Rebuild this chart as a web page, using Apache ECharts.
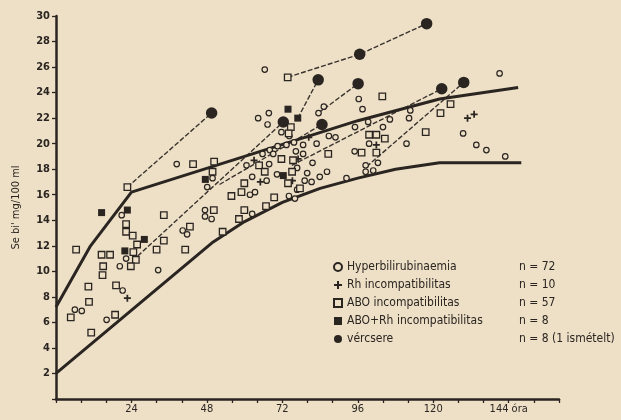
<!DOCTYPE html>
<html>
<head>
<meta charset="utf-8">
<script src="https://cdn.jsdelivr.net/npm/echarts@6/dist/echarts.min.js"></script>
<style>
  html, body { margin: 0; padding: 0; background: #ede0c7; }
  #main { width: 621px; height: 420px; }
</style>
</head>
<body>
<div id="main"></div>
<script>
// hours (óra) vs serum bilirubin (mg/100 ml)
var xLabels = [24, 48, 72, 96, 120, 144];
var yMax = 30;

var upperLimit = [[0, 7.2], [11, 12], [24, 16.2], [96, 21.8], [122, 23.5], [147, 24.4]];
var lowerLimit = [[0, 2], [50, 12.3], [60, 13.9], [72, 15.4], [84, 16.5], [96, 17.3], [108, 18.0], [122, 18.5], [148, 18.5]];

var hyper = [
  [6.0, 7.0], [8.2, 6.9], [16.1, 6.2], [20.3, 10.4], [21.2, 8.5], [20.9, 14.4], [22.3, 11.0],
  [32.5, 10.1], [38.4, 18.4], [40.3, 13.2], [41.7, 12.9], [47.4, 14.8], [47.4, 14.3], [49.5, 14.1],
  [48.1, 16.6], [49.8, 17.3], [60.6, 18.3], [66.4, 25.8], [64.3, 22.0], [67.7, 22.4], [67.3, 21.5],
  [71.7, 20.9], [74.2, 20.6], [75.7, 20.1], [73.3, 19.9], [70.5, 19.8], [68.0, 19.5], [65.7, 19.2],
  [69.1, 19.2], [78.6, 19.9], [82.9, 20.0], [78.6, 19.2], [81.6, 18.5], [76.7, 18.1], [67.8, 18.4],
  [70.3, 17.6], [62.4, 17.4], [67.0, 17.1], [79.9, 17.7], [83.9, 17.4], [86.2, 17.8], [81.3, 17.0],
  [79.1, 17.1], [76.7, 16.4], [74.1, 15.9], [76.0, 15.7], [63.3, 16.2], [61.7, 16.0], [62.4, 14.5],
  [60.1, 14.8], [92.4, 17.3], [95.0, 19.4], [86.8, 20.6], [88.9, 20.5], [85.2, 22.9], [83.5, 22.4],
  [76.3, 19.4], [96.3, 23.5], [97.5, 22.7], [95.1, 21.3], [99.3, 21.7], [106.2, 21.9], [104.0, 21.3],
  [112.7, 22.6], [112.3, 22.0], [99.6, 20.0], [102.4, 18.5], [98.5, 18.3], [98.5, 17.8], [100.9, 17.9],
  [111.5, 20.0], [129.5, 20.8], [133.7, 19.9], [136.9, 19.5], [142.9, 19.0], [141.1, 25.5]
];
var rh = [
  [22.7, 7.9], [63.0, 18.7], [75.2, 17.1], [130.9, 22.0], [133.0, 22.3],
  [65.0, 17.0], [77.0, 18.8], [80.4, 20.5], [101.9, 19.9]
];
var abo = [
  [6.4, 11.7], [4.7, 6.4], [10.3, 8.8], [10.5, 7.6], [11.2, 5.2], [14.5, 11.3], [17.2, 11.3],
  [15.0, 10.4], [14.8, 9.7], [19.1, 8.9], [18.8, 6.6], [22.7, 16.6], [22.3, 13.7], [22.3, 13.1],
  [24.4, 12.8], [25.8, 12.1], [24.6, 11.5], [25.4, 10.9], [23.8, 10.4], [34.3, 14.4], [32.0, 11.7],
  [34.3, 12.4], [41.1, 11.7], [42.6, 13.5], [43.6, 18.4], [50.3, 18.6], [49.8, 17.8], [50.2, 14.8],
  [55.8, 15.9], [59.0, 16.2], [59.9, 16.9], [59.9, 14.8], [58.2, 14.1], [53.0, 13.1], [73.7, 25.2],
  [74.7, 21.3], [86.6, 19.2], [71.7, 18.8], [75.4, 18.7], [64.6, 18.3], [66.4, 17.8], [75.1, 17.8],
  [73.8, 16.9], [77.6, 16.5], [69.4, 15.8], [66.8, 15.1], [103.8, 23.7], [125.5, 23.1], [122.3, 22.4],
  [117.6, 20.9], [99.6, 20.7], [101.9, 20.7], [104.6, 20.4], [97.2, 19.3], [101.9, 19.3], [74.0, 20.8]
];
var aboRh = [
  [14.5, 14.6], [22.7, 14.8], [28.1, 12.5], [21.9, 11.6], [47.5, 17.2], [73.8, 22.7], [76.9, 22.0], [72.3, 17.5]
];
var exchange = [
  [49.5, 22.4], [72.3, 21.7], [83.4, 25.0], [84.6, 21.5], [96.1, 24.7], [96.6, 27.0],
  [117.9, 29.4], [122.7, 24.3], [129.7, 24.8]
];
// dashed links before/after exchange transfusion
var links = [
  [[22.7, 16.6], [49.5, 22.4]],
  [[73.7, 25.2], [96.6, 27.0], [117.9, 29.4]],
  [[76.9, 22.0], [83.4, 25.0]],
  [[26, 11.2], [72.3, 21.7]],
  [[52, 16.8], [84.6, 21.5]],
  [[83.5, 22.4], [96.1, 24.7]],
  [[75, 18.3], [122.7, 24.3]],
  [[98.8, 18.2], [129.7, 24.8]]
];

var names = ['Hyperbilirubinaemia', 'Rh incompatibilitas', 'ABO incompatibilitas', 'ABO+Rh incompatibilitas', 'vércsere'];
var counts = ['n = 72', 'n = 10', 'n = 57', 'n = 8', 'n = 8 (1 ismételt)'];

var ink = '#2b2521';
var paper = '#ede0c7';
var font = 'DejaVu Sans Condensed';

var series = [];
series.push({ type: 'line', data: upperLimit, symbol: 'none', lineStyle: { color: ink, width: 3 }, z: 2, silent: true });
series.push({ type: 'line', data: lowerLimit, symbol: 'none', lineStyle: { color: ink, width: 3 }, z: 2, silent: true });
links.forEach(function (seg) {
  series.push({ type: 'line', data: seg, symbol: 'none', lineStyle: { color: '#3a332d', width: 1.4, type: [5, 2] }, z: 1, silent: true });
});
series.push({ name: names[0], type: 'scatter', data: hyper, symbol: 'circle', symbolSize: 5.5,
  itemStyle: { color: paper, borderColor: ink, borderWidth: 1.2, opacity: 1 }, z: 3 });
series.push({ name: names[1], type: 'scatter', data: rh, symbol: 'path://M3,0H5V3H8V5H5V8H3V5H0V3H3Z', symbolSize: 7,
  itemStyle: { color: ink, opacity: 1 }, z: 3 });
series.push({ name: names[2], type: 'scatter', data: abo, symbol: 'rect', symbolSize: 6.5,
  itemStyle: { color: paper, borderColor: ink, borderWidth: 1.3, opacity: 1 }, z: 3 });
series.push({ name: names[3], type: 'scatter', data: aboRh, symbol: 'rect', symbolSize: 7,
  itemStyle: { color: ink, opacity: 1 }, z: 4 });
series.push({ name: names[4], type: 'scatter', data: exchange, symbol: 'circle', symbolSize: 11.5,
  itemStyle: { color: ink, opacity: 1 }, z: 5 });

var myChart = echarts.init(document.getElementById('main'));
myChart.setOption({
  backgroundColor: paper,
  animation: false,
  grid: { left: 56, top: 16, width: 503, height: 383 },
  legend: {
    data: names,
    orient: 'vertical',
    left: 328, top: 256,
    itemWidth: 8, itemHeight: 8, itemGap: 6,
    selectedMode: false,
    formatter: function (name) {
      return '{a|' + name + '}{b|' + counts[names.indexOf(name)] + '}';
    },
    textStyle: {
      color: ink, fontFamily: font, fontSize: 12,
      rich: { a: { width: 172, fontFamily: font, fontSize: 12, color: ink }, b: { fontFamily: font, fontSize: 12, color: ink } }
    }
  },
  xAxis: {
    type: 'value', min: 0, max: 160, interval: 8,
    splitLine: { show: false },
    axisLine: { lineStyle: { color: ink, width: 2.5 } },
    axisTick: { length: 4, lineStyle: { color: ink, width: 1.3 } },
    axisLabel: {
      color: ink, fontFamily: font, fontSize: 11, margin: 5,
      formatter: function (v) {
        if (xLabels.indexOf(v) < 0) return '';
        return v === 144 ? '144 óra' : String(v);
      }
    }
  },
  yAxis: {
    type: 'value', min: 0, max: yMax, interval: 2,
    name: "Se bi' mg/100 ml", nameLocation: 'middle', nameGap: 34,
    nameTextStyle: { color: ink, fontFamily: font, fontSize: 11 },
    splitLine: { show: false },
    axisLine: { lineStyle: { color: ink, width: 2.5 } },
    axisTick: { length: 4, lineStyle: { color: ink, width: 1.3 } },
    axisLabel: {
      color: ink, fontFamily: font, fontSize: 11, margin: 6, fontWeight: 'bold',
      formatter: function (v) { return v === 0 ? '' : String(v); }
    }
  },
  series: series
});
</script>
</body>
</html>
